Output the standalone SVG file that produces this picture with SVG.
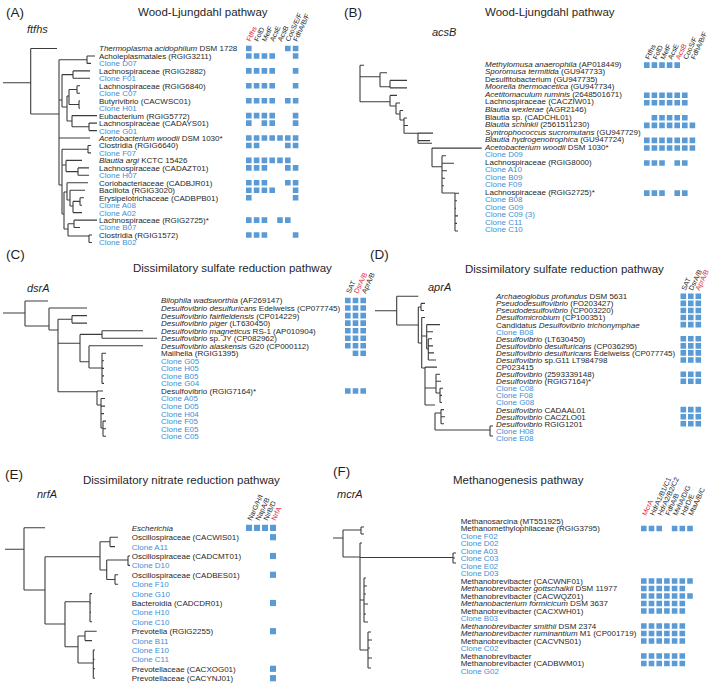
<svg xmlns="http://www.w3.org/2000/svg" width="709" height="685" viewBox="0 0 709 685">
<style>
text{font-family:"Liberation Sans",Arial,Helvetica,sans-serif;fill:#1f1f1f}
.t{font-size:8px}
.c{fill:#3e8fd5}
.i{font-style:italic}
.h{font-size:7px}
.r{fill:#e0243f}
.sq{fill:#5b9bd5}
.tr{fill:none;stroke:#3c3c3c;stroke-width:1.1}
.ti{font-size:11.5px}
.pl{font-size:13.5px}
.g{font-size:11px;font-style:italic}
</style>
<rect width="709" height="685" fill="#fff"/>
<g id="connectors">
<path class="tr" d="M3,82.7H30.7M30.7,48.5V114M30.7,48.5H57M30.7,114H59M59,59.7V185M59,59.7H87M87,56V63.4M87,56H95M87,63.4H91M59,100H62M62,74.6V107M62,74.6H73M73,70.9V78.3M73,70.9H90M73,78.3H90M62,107H67M67,96V121M67,96H69M69,89.5V104.5M69,89.5H77M77,85.8V93.3M77,85.8H80M77,93.3H80M69,104.5H79M79,100.7V108.2M79,100.7H80M79,108.2H80M67,121H72M72,115.6V126.8M72,115.6H97M72,126.8H89M89,123.1V130.6M89,123.1H97M89,130.6H97M59,138H90M59,185H62M62,149.2V214M62,149.2H88M88,145.5V152.9M88,145.5H91M88,152.9H91M62,165H66M66,160.4V171.6M66,160.4H82M66,171.6H78M78,167.9V175.3M78,167.9H89M78,175.3H89M62,214H64M64,192V229M64,192H67M67,182.8V200M67,182.8H88M67,200H70M70,190.2V206M70,190.2H85M70,206H73M73,201.4V212.6M73,201.4H80M80,197.7V205.2M80,197.7H84M80,205.2H82M73,212.6H82M64,229H68M68,223.8V236M68,223.8H74M74,220.1V227.5M74,220.1H97M74,227.5H80M68,236H89M89,235V242.5M89,235H92M89,242.5H92"/>
<path class="tr" d="M360,65.3V101.7M360,65.3H364M360,76.7H380M380,72.8V86.7M380,72.8H387M380,86.7H390M390,80.4V87.9M390,80.4H407M390,87.9H407M360,101.7H390M390,95.4V106M390,95.4H397M390,106H396M396,103V114M396,103H400M396,114H400M400,110.5V120M400,110.5H403M400,120H404M404,118V133.3M404,118H407M404,125.5H408M404,133.3H418M418,133.1V143.3M418,133.1H433M418,140.6H430M418,143.3H432M432,148.1V166.7M432,148.1H481.7M432,166.7H442M442,155.7V193M442,155.7H446M442,163.2H454M442,170.7H447M442,178.3H445M442,185.8H444M442,193H455M455,193.3V231M455,193.3H459M455,200.8H457M455,208.4H456M455,215.9H458M455,223.4H457M455,231H458"/>
<path class="tr" d="M3,313H25M25,301V326M25,301H48M25,326H49M49,308V330M49,308H87M49,330H58M58,319.3V391.7M58,319.3H72M72,315.6V323.1M72,315.6H87M72,323.1H87M58,343.3H80M80,334.4V361.7M80,334.4H102M102,330.7V338.2M102,330.7H143M102,338.2H157M80,361.7H89M89,345.7V368M89,345.7H143M89,368H102M102,353.3V383.4M102,353.3H106M102,360.8H104M102,368.4H104M102,375.9H104M102,383.4H104M58,391.7H97M97,391V405M97,391H103M97,405H101M101,398.5V428M101,398.5H105M101,406.1H105M101,413.6H104M101,428H103M103,421.1V436.2M103,421.1H106M103,428.7H106M103,436.2H106"/>
<path class="tr" d="M375,310.7H396.7M396.7,296.3V325M396.7,296.3H418.3M396.7,325H418.3M418.3,307V343M418.3,307H421M421,303.4V310.5M421,303.4H425M421,310.5H424M418.3,343H421.7M421.7,317.5V368M421.7,317.5H425M421.7,336H426.7M426.7,324.6V349M426.7,324.6H440M426.7,331.7H433M426.7,349H428.3M428.3,338.8V360M428.3,338.8H432M428.3,345.9H433M428.3,352.9H434M428.3,360H436M421.7,368H425M425,367.1V405M425,367.1H437M425,388H436M436,374.2V393M436,374.2H440M436,381.3H441M436,393H440M440,388.3V402.5M440,388.3H443M440,395.4H442M440,402.5H442M425,405H435M435,413V430M435,413H441M441,409.6V423.7M441,409.6H444M441,416.7H445M441,423.7H444M435,430H490M490,426V436M490,426H493M490,436H493"/>
<path class="tr" d="M5,549.3H24M24,527.8V590M24,527.8H45M24,590H45M45,556.7V624M45,556.7H100M100,541.7V570M100,541.7H110M110,537.2V546.6M110,537.2H118M110,546.6H115M100,570H106.7M106.7,560V579.5M106.7,560H128M128,556V565.4M128,556H130M128,565.4H130M106.7,579.5H115M115,574.8V584.2M115,574.8H118M115,584.2H118M45,624H65M65,601.7V646.7M65,601.7H90M90,593.6V621.8M90,593.6H92M90,603H91M90,612.4H91M90,621.8H92M65,646.7H78M78,636V663M78,636H85M85,631.2V640.6M85,631.2H96.7M85,640.6H92M78,663H93.3M93.3,650V678.2M93.3,650H95M93.3,659.4H94.5M93.3,668.8H95M93.3,678.2H95"/>
<path class="tr" d="M333,538H343M343,530V557M343,530H361M361,527V534M361,527H364M361,534H364M343,557H360M360,543V650M360,543H362M360,557.5H453M453,553V563M453,553H456M453,558H455M453,563H456M360,600H364M364,578V622M364,578H366M364,586H367M364,594H366M364,604H368M364,614H366M364,622H368M360,650H368M368,632V668M368,632H371M368,640H372M368,648H370M368,658H372M368,668H371"/>
</g>

<g id="panelA">
<text class="pl" x="6" y="17.2">(A)</text>
<text class="ti" x="138" y="15.5">Wood-Ljungdahl pathway</text>
<text class="g" x="27" y="33">ftfhs</text>
<g id="A-headers">
<text class="h r" transform="translate(250.5,42) rotate(-65)">Ftfhs</text>
<text class="h" transform="translate(258.3,42) rotate(-65)">FolD</text>
<text class="h" transform="translate(266.1,42) rotate(-65)">MetF</text>
<text class="h" transform="translate(273.9,42) rotate(-65)">AcsE</text>
<text class="h" transform="translate(281.7,42) rotate(-65)">AcsB</text>
<text class="h" transform="translate(289.5,42) rotate(-65)">CooS/E/F</text>
<text class="h" transform="translate(297.3,42) rotate(-65)">FdhA/B/F</text>
</g>
<g id="A-n0"><text class="t" x="99" y="51.4"><tspan class="i">Thermoplasma acidophilum</tspan> DSM 1728</text><path class="sq" d="M246,45.7h5.6v5.6h-5.6zm39,0h5.6v5.6h-5.6zm7.8,0h5.6v5.6h-5.6z"/></g>
<g id="A-n1"><text class="t" x="99" y="58.9">Acholeplasmatales (RGIG3211)</text><path class="sq" d="M246,53.2h5.6v5.6h-5.6zm7.8,0h5.6v5.6h-5.6zm7.8,0h5.6v5.6h-5.6zm7.8,0h5.6v5.6h-5.6zm23.4,0h5.6v5.6h-5.6z"/></g>
<g id="A-n2"><text class="t c" x="99" y="66.3">Clone D07</text></g>
<g id="A-n3"><text class="t" x="99" y="73.8">Lachnospiraceae (RGIG2882)</text><path class="sq" d="M246,68.1h5.6v5.6h-5.6zm7.8,0h5.6v5.6h-5.6zm7.8,0h5.6v5.6h-5.6zm7.8,0h5.6v5.6h-5.6zm23.4,0h5.6v5.6h-5.6z"/></g>
<g id="A-n4"><text class="t c" x="99" y="81.2">Clone F01</text></g>
<g id="A-n5"><text class="t" x="99" y="88.7">Lachnospiraceae (RGIG6840)</text><path class="sq" d="M246,83h5.6v5.6h-5.6zm7.8,0h5.6v5.6h-5.6zm7.8,0h5.6v5.6h-5.6zm7.8,0h5.6v5.6h-5.6zm23.4,0h5.6v5.6h-5.6z"/></g>
<g id="A-n6"><text class="t c" x="99" y="96.2">Clone C07</text></g>
<g id="A-n7"><text class="t" x="99" y="103.6">Butyrivibrio (CACWSC01)</text><path class="sq" d="M246,97.9h5.6v5.6h-5.6zm7.8,0h5.6v5.6h-5.6zm7.8,0h5.6v5.6h-5.6zm7.8,0h5.6v5.6h-5.6zm15.6,0h5.6v5.6h-5.6zm7.8,0h5.6v5.6h-5.6z"/></g>
<g id="A-n8"><text class="t c" x="99" y="111.1">Clone H01</text></g>
<g id="A-n9"><text class="t" x="99" y="118.5">Eubacterium (RGIG5772)</text><path class="sq" d="M246,112.8h5.6v5.6h-5.6zm7.8,0h5.6v5.6h-5.6zm7.8,0h5.6v5.6h-5.6zm7.8,0h5.6v5.6h-5.6zm23.4,0h5.6v5.6h-5.6z"/></g>
<g id="A-n10"><text class="t" x="99" y="126">Lachnospiraceae (CADAYS01)</text><path class="sq" d="M246,120.3h5.6v5.6h-5.6zm15.6,0h5.6v5.6h-5.6zm7.8,0h5.6v5.6h-5.6zm23.4,0h5.6v5.6h-5.6z"/></g>
<g id="A-n11"><text class="t c" x="99" y="133.5">Clone G01</text></g>
<g id="A-n12"><text class="t" x="99" y="140.9"><tspan class="i">Acetobacterium woodii</tspan> DSM 1030*</text><path class="sq" d="M246,135.2h5.6v5.6h-5.6zm7.8,0h5.6v5.6h-5.6zm7.8,0h5.6v5.6h-5.6zm7.8,0h5.6v5.6h-5.6zm7.8,0h5.6v5.6h-5.6zm7.8,0h5.6v5.6h-5.6zm7.8,0h5.6v5.6h-5.6z"/></g>
<g id="A-n13"><text class="t" x="99" y="148.4">Clostridia (RGIG6640)</text><path class="sq" d="M246,142.7h5.6v5.6h-5.6zm7.8,0h5.6v5.6h-5.6zm31.2,0h5.6v5.6h-5.6zm7.8,0h5.6v5.6h-5.6z"/></g>
<g id="A-n14"><text class="t c" x="99" y="155.8">Clone F07</text></g>
<g id="A-n15"><text class="t" x="99" y="163.3"><tspan class="i">Blautia argi</tspan> KCTC 15426</text><path class="sq" d="M246,157.6h5.6v5.6h-5.6zm7.8,0h5.6v5.6h-5.6zm7.8,0h5.6v5.6h-5.6zm7.8,0h5.6v5.6h-5.6zm7.8,0h5.6v5.6h-5.6zm7.8,0h5.6v5.6h-5.6z"/></g>
<g id="A-n16"><text class="t" x="99" y="170.8">Lachnospiraceae (CADAZT01)</text><path class="sq" d="M246,165.1h5.6v5.6h-5.6zm7.8,0h5.6v5.6h-5.6zm7.8,0h5.6v5.6h-5.6zm23.4,0h5.6v5.6h-5.6zm7.8,0h5.6v5.6h-5.6z"/></g>
<g id="A-n17"><text class="t c" x="99" y="178.2">Clone H07</text></g>
<g id="A-n18"><text class="t" x="99" y="185.7">Coriobacteriaceae (CADBJR01)</text><path class="sq" d="M246,180h5.6v5.6h-5.6zm7.8,0h5.6v5.6h-5.6zm7.8,0h5.6v5.6h-5.6zm23.4,0h5.6v5.6h-5.6zm7.8,0h5.6v5.6h-5.6z"/></g>
<g id="A-n19"><text class="t" x="99" y="193.1">Bacillota (RGIG3020)</text><path class="sq" d="M246,187.4h5.6v5.6h-5.6zm7.8,0h5.6v5.6h-5.6zm7.8,0h5.6v5.6h-5.6zm7.8,0h5.6v5.6h-5.6zm23.4,0h5.6v5.6h-5.6z"/></g>
<g id="A-n20"><text class="t" x="99" y="200.6">Erysipelotrichaceae (CADBPB01)</text><path class="sq" d="M246,194.9h5.6v5.6h-5.6zm46.8,0h5.6v5.6h-5.6z"/></g>
<g id="A-n21"><text class="t c" x="99" y="208.1">Clone A08</text></g>
<g id="A-n22"><text class="t c" x="99" y="215.5">Clone A02</text></g>
<g id="A-n23"><text class="t" x="99" y="223">Lachnospiraceae (RGIG2725)*</text><path class="sq" d="M246,217.3h5.6v5.6h-5.6zm7.8,0h5.6v5.6h-5.6zm7.8,0h5.6v5.6h-5.6zm15.6,0h5.6v5.6h-5.6zm7.8,0h5.6v5.6h-5.6z"/></g>
<g id="A-n24"><text class="t c" x="99" y="230.4">Clone B07</text></g>
<g id="A-n25"><text class="t" x="99" y="237.9">Clostridia (RGIG1572)</text><path class="sq" d="M246,232.2h5.6v5.6h-5.6zm7.8,0h5.6v5.6h-5.6zm7.8,0h5.6v5.6h-5.6zm31.2,0h5.6v5.6h-5.6z"/></g>
<g id="A-n26"><text class="t c" x="99" y="245.4">Clone B02</text></g>
</g>

<g id="panelB">
<text class="pl" x="344" y="17.2">(B)</text>
<text class="ti" x="485" y="15.5">Wood-Ljungdahl pathway</text>
<text class="g" x="432" y="36">acsB</text>
<g id="B-headers">
<text class="h" transform="translate(649.3,60) rotate(-65)">Ftfhs</text>
<text class="h" transform="translate(656.9,60) rotate(-65)">FolD</text>
<text class="h" transform="translate(664.5,60) rotate(-65)">MetF</text>
<text class="h" transform="translate(672.1,60) rotate(-65)">AcsE</text>
<text class="h r" transform="translate(679.7,60) rotate(-65)">AcsB</text>
<text class="h" transform="translate(687.3,60) rotate(-65)">CooS/F</text>
<text class="h" transform="translate(694.9,60) rotate(-65)">FdhA/B/F</text>
</g>
<g id="B-n0"><text class="t" x="485" y="66.8"><tspan class="i">Methylomusa anaerophila</tspan> (AP018449)</text><path class="sq" d="M644,62.3h5.6v5.6h-5.6zm7.6,0h5.6v5.6h-5.6zm7.6,0h5.6v5.6h-5.6zm7.6,0h5.6v5.6h-5.6zm7.6,0h5.6v5.6h-5.6z"/></g>
<g id="B-n1"><text class="t" x="485" y="74.33"><tspan class="i">Sporomusa termitida</tspan> (GU947733)</text></g>
<g id="B-n2"><text class="t" x="485" y="81.86">Desulfitobacterium (GU947735)</text></g>
<g id="B-n3"><text class="t" x="485" y="89.39"><tspan class="i">Moorella thermoacetica</tspan> (GU947734)</text></g>
<g id="B-n4"><text class="t" x="485" y="96.92"><tspan class="i">Acetitomaculum ruminis</tspan> (2648501671)</text><path class="sq" d="M644,92.42h5.6v5.6h-5.6zm7.6,0h5.6v5.6h-5.6zm7.6,0h5.6v5.6h-5.6zm7.6,0h5.6v5.6h-5.6zm7.6,0h5.6v5.6h-5.6zm7.6,0h5.6v5.6h-5.6z"/></g>
<g id="B-n5"><text class="t" x="485" y="104.45">Lachnospiraceae (CACZIW01)</text><path class="sq" d="M644,99.95h5.6v5.6h-5.6zm7.6,0h5.6v5.6h-5.6zm7.6,0h5.6v5.6h-5.6zm7.6,0h5.6v5.6h-5.6zm7.6,0h5.6v5.6h-5.6zm7.6,0h5.6v5.6h-5.6z"/></g>
<g id="B-n6"><text class="t" x="485" y="111.98"><tspan class="i">Blautia wexlerae</tspan> (AGR2146)</text></g>
<g id="B-n7"><text class="t" x="485" y="119.51">Blautia sp. (CADCHL01)</text><path class="sq" d="M651.6,115.01h5.6v5.6h-5.6zm7.6,0h5.6v5.6h-5.6zm7.6,0h5.6v5.6h-5.6zm7.6,0h5.6v5.6h-5.6zm7.6,0h5.6v5.6h-5.6z"/></g>
<g id="B-n8"><text class="t" x="485" y="127.04"><tspan class="i">Blautia schinkii</tspan> (2561511230)</text><path class="sq" d="M644,122.54h5.6v5.6h-5.6zm7.6,0h5.6v5.6h-5.6zm7.6,0h5.6v5.6h-5.6zm7.6,0h5.6v5.6h-5.6zm7.6,0h5.6v5.6h-5.6zm7.6,0h5.6v5.6h-5.6zm7.6,0h5.6v5.6h-5.6z"/></g>
<g id="B-n9"><text class="t" x="485" y="134.57"><tspan class="i">Syntrophococcus sucromutans</tspan> (GU947729)</text></g>
<g id="B-n10"><text class="t" x="485" y="142.1"><tspan class="i">Blautia hydrogenotrophica</tspan> (GU947724)</text><path class="sq" d="M644,137.6h5.6v5.6h-5.6zm7.6,0h5.6v5.6h-5.6zm7.6,0h5.6v5.6h-5.6zm7.6,0h5.6v5.6h-5.6zm7.6,0h5.6v5.6h-5.6zm7.6,0h5.6v5.6h-5.6zm7.6,0h5.6v5.6h-5.6z"/></g>
<g id="B-n11"><text class="t" x="485" y="149.63"><tspan class="i">Acetobacterium woodii</tspan> DSM 1030*</text><path class="sq" d="M644,145.13h5.6v5.6h-5.6zm7.6,0h5.6v5.6h-5.6zm7.6,0h5.6v5.6h-5.6zm7.6,0h5.6v5.6h-5.6zm7.6,0h5.6v5.6h-5.6zm7.6,0h5.6v5.6h-5.6zm7.6,0h5.6v5.6h-5.6z"/></g>
<g id="B-n12"><text class="t c" x="485" y="157.16">Clone D09</text></g>
<g id="B-n13"><text class="t" x="485" y="164.69">Lachnospiraceae (RGIG8000)</text><path class="sq" d="M644,160.19h5.6v5.6h-5.6zm7.6,0h5.6v5.6h-5.6zm7.6,0h5.6v5.6h-5.6zm15.2,0h5.6v5.6h-5.6zm7.6,0h5.6v5.6h-5.6z"/></g>
<g id="B-n14"><text class="t c" x="485" y="172.22">Clone A10</text></g>
<g id="B-n15"><text class="t c" x="485" y="179.75">Clone B09</text></g>
<g id="B-n16"><text class="t c" x="485" y="187.28">Clone F09</text></g>
<g id="B-n17"><text class="t" x="485" y="194.81">Lachnospiraceae (RGIG2725)*</text><path class="sq" d="M644,190.31h5.6v5.6h-5.6zm7.6,0h5.6v5.6h-5.6zm7.6,0h5.6v5.6h-5.6zm15.2,0h5.6v5.6h-5.6zm7.6,0h5.6v5.6h-5.6z"/></g>
<g id="B-n18"><text class="t c" x="485" y="202.34">Clone B08</text></g>
<g id="B-n19"><text class="t c" x="485" y="209.87">Clone G09</text></g>
<g id="B-n20"><text class="t c" x="485" y="217.4">Clone C09 (3)</text></g>
<g id="B-n21"><text class="t c" x="485" y="224.93">Clone C11</text></g>
<g id="B-n22"><text class="t c" x="485" y="232.46">Clone C10</text></g>
</g>

<g id="panelC">
<text class="pl" x="6" y="259">(C)</text>
<text class="ti" x="133" y="271.5">Dissimilatory sulfate reduction pathway</text>
<text class="g" x="27" y="291.5">dsrA</text>
<g id="C-headers">
<text class="h" transform="translate(350.3,294) rotate(-65)">SAT</text>
<text class="h r" transform="translate(358,294) rotate(-65)">DsrA/B</text>
<text class="h" transform="translate(365.7,294) rotate(-65)">AprA/B</text>
</g>
<g id="C-n0"><text class="t" x="161" y="303.4"><tspan class="i">Bilophila wadsworthia</tspan> (AF269147)</text><path class="sq" d="M345,297.7h5.6v5.6h-5.6zm7.7,0h5.6v5.6h-5.6zm7.7,0h5.6v5.6h-5.6z"/></g>
<g id="C-n1"><text class="t" x="161" y="310.9"><tspan class="i">Desulfovibrio desulfuricans</tspan> Edelweiss (CP077745)</text><path class="sq" d="M345,305.2h5.6v5.6h-5.6zm7.7,0h5.6v5.6h-5.6zm7.7,0h5.6v5.6h-5.6z"/></g>
<g id="C-n2"><text class="t" x="161" y="318.5"><tspan class="i">Desulfovibrio fairfieldensis</tspan> (CP014229)</text><path class="sq" d="M345,312.8h5.6v5.6h-5.6zm7.7,0h5.6v5.6h-5.6zm7.7,0h5.6v5.6h-5.6z"/></g>
<g id="C-n3"><text class="t" x="161" y="326"><tspan class="i">Desulfovibrio piger</tspan> (LT630450)</text><path class="sq" d="M345,320.3h5.6v5.6h-5.6zm7.7,0h5.6v5.6h-5.6zm7.7,0h5.6v5.6h-5.6z"/></g>
<g id="C-n4"><text class="t" x="161" y="333.6"><tspan class="i">Desulfovibrio magneticus</tspan> RS-1 (AP010904)</text><path class="sq" d="M345,327.9h5.6v5.6h-5.6zm7.7,0h5.6v5.6h-5.6zm7.7,0h5.6v5.6h-5.6z"/></g>
<g id="C-n5"><text class="t" x="161" y="341.1"><tspan class="i">Desulfovibrio</tspan> sp. JY (CP082962)</text><path class="sq" d="M345,335.4h5.6v5.6h-5.6zm7.7,0h5.6v5.6h-5.6zm7.7,0h5.6v5.6h-5.6z"/></g>
<g id="C-n6"><text class="t" x="161" y="348.6"><tspan class="i">Desulfovibrio alaskensis</tspan> G20 (CP000112)</text><path class="sq" d="M345,342.9h5.6v5.6h-5.6zm7.7,0h5.6v5.6h-5.6zm7.7,0h5.6v5.6h-5.6z"/></g>
<g id="C-n7"><text class="t" x="161" y="356.2">Mailhella (RGIG1395)</text><path class="sq" d="M352.7,350.5h5.6v5.6h-5.6zm7.7,0h5.6v5.6h-5.6z"/></g>
<g id="C-n8"><text class="t c" x="161" y="363.7">Clone G05</text></g>
<g id="C-n9"><text class="t c" x="161" y="371.3">Clone H05</text></g>
<g id="C-n10"><text class="t c" x="161" y="378.8">Clone B05</text></g>
<g id="C-n11"><text class="t c" x="161" y="386.3">Clone G04</text></g>
<g id="C-n12"><text class="t" x="161" y="393.9">Desulfovibrio (RGIG7164)*</text><path class="sq" d="M345,388.2h5.6v5.6h-5.6zm7.7,0h5.6v5.6h-5.6zm7.7,0h5.6v5.6h-5.6z"/></g>
<g id="C-n13"><text class="t c" x="161" y="401.4">Clone A05</text></g>
<g id="C-n14"><text class="t c" x="161" y="409">Clone D05</text></g>
<g id="C-n15"><text class="t c" x="161" y="416.5">Clone H04</text></g>
<g id="C-n16"><text class="t c" x="161" y="424">Clone F05</text></g>
<g id="C-n17"><text class="t c" x="161" y="431.6">Clone E05</text></g>
<g id="C-n18"><text class="t c" x="161" y="439.1">Clone C05</text></g>
</g>

<g id="panelD">
<text class="pl" x="370" y="259">(D)</text>
<text class="ti" x="465" y="273">Dissimilatory sulfate reduction pathway</text>
<text class="g" x="428" y="291">aprA</text>
<g id="D-headers">
<text class="h" transform="translate(685.5,291) rotate(-65)">SAT</text>
<text class="h" transform="translate(692.8,291) rotate(-65)">DsrA/B</text>
<text class="h r" transform="translate(699.6,291) rotate(-65)">AprA/B</text>
</g>
<g id="D-n0"><text class="t" x="496" y="299.2"><tspan class="i">Archaeoglobus profundus</tspan> DSM 5631</text><path class="sq" d="M680.5,293.5h5.6v5.6h-5.6zm7.5,0h5.6v5.6h-5.6zm7.5,0h5.6v5.6h-5.6z"/></g>
<g id="D-n1"><text class="t" x="496" y="306.3"><tspan class="i">Pseudodesulfovibrio</tspan> (FO203427)</text><path class="sq" d="M680.5,300.6h5.6v5.6h-5.6zm7.5,0h5.6v5.6h-5.6zm7.5,0h5.6v5.6h-5.6z"/></g>
<g id="D-n2"><text class="t" x="496" y="313.4"><tspan class="i">Pseudodesulfovibrio</tspan> (CP003220)</text><path class="sq" d="M680.5,307.7h5.6v5.6h-5.6zm7.5,0h5.6v5.6h-5.6zm7.5,0h5.6v5.6h-5.6z"/></g>
<g id="D-n3"><text class="t" x="496" y="320.4"><tspan class="i">Desulfomicrobium</tspan> (CP100351)</text><path class="sq" d="M680.5,314.7h5.6v5.6h-5.6zm7.5,0h5.6v5.6h-5.6zm7.5,0h5.6v5.6h-5.6z"/></g>
<g id="D-n4"><text class="t" x="496" y="327.5">Candidatus <tspan class="i">Desulfovibrio trichonymphae</tspan></text><path class="sq" d="M680.5,321.8h5.6v5.6h-5.6zm7.5,0h5.6v5.6h-5.6zm7.5,0h5.6v5.6h-5.6z"/></g>
<g id="D-n5"><text class="t c" x="496" y="334.6">Clone B08</text></g>
<g id="D-n6"><text class="t" x="496" y="341.7"><tspan class="i">Desulfovibrio</tspan> (LT630450)</text><path class="sq" d="M680.5,336h5.6v5.6h-5.6zm7.5,0h5.6v5.6h-5.6zm7.5,0h5.6v5.6h-5.6z"/></g>
<g id="D-n7"><text class="t" x="496" y="348.8"><tspan class="i">Desulfovibrio desulfuricans</tspan> (CP036295)</text><path class="sq" d="M680.5,343.1h5.6v5.6h-5.6zm7.5,0h5.6v5.6h-5.6zm7.5,0h5.6v5.6h-5.6z"/></g>
<g id="D-n8"><text class="t" x="496" y="355.8"><tspan class="i">Desulfovibrio desulfuricans</tspan> Edelweiss (CP077745)</text><path class="sq" d="M680.5,350.1h5.6v5.6h-5.6zm7.5,0h5.6v5.6h-5.6zm7.5,0h5.6v5.6h-5.6z"/></g>
<g id="D-n9"><text class="t" x="496" y="362.9"><tspan class="i">Desulfovibrio</tspan> sp.G11 LT984798</text><path class="sq" d="M680.5,357.2h5.6v5.6h-5.6zm7.5,0h5.6v5.6h-5.6zm7.5,0h5.6v5.6h-5.6z"/></g>
<g id="D-n10"><text class="t" x="496" y="370">CP023415</text></g>
<g id="D-n11"><text class="t" x="496" y="377.1"><tspan class="i">Desulfovibrio</tspan> (2593339148)</text><path class="sq" d="M680.5,371.4h5.6v5.6h-5.6zm7.5,0h5.6v5.6h-5.6zm7.5,0h5.6v5.6h-5.6z"/></g>
<g id="D-n12"><text class="t" x="496" y="384.2"><tspan class="i">Desulfovibrio</tspan> (RGIG7164)*</text><path class="sq" d="M680.5,378.5h5.6v5.6h-5.6zm7.5,0h5.6v5.6h-5.6zm7.5,0h5.6v5.6h-5.6z"/></g>
<g id="D-n13"><text class="t c" x="496" y="391.2">Clone C08</text></g>
<g id="D-n14"><text class="t c" x="496" y="398.3">Clone F08</text></g>
<g id="D-n15"><text class="t c" x="496" y="405.4">Clone G08</text></g>
<g id="D-n16"><text class="t" x="496" y="412.5"><tspan class="i">Desulfovibrio</tspan> CADAAL01</text><path class="sq" d="M680.5,406.8h5.6v5.6h-5.6zm7.5,0h5.6v5.6h-5.6zm7.5,0h5.6v5.6h-5.6z"/></g>
<g id="D-n17"><text class="t" x="496" y="419.6"><tspan class="i">Desulfovibrio</tspan> CACZLO01</text><path class="sq" d="M680.5,413.9h5.6v5.6h-5.6zm7.5,0h5.6v5.6h-5.6zm7.5,0h5.6v5.6h-5.6z"/></g>
<g id="D-n18"><text class="t" x="496" y="426.6"><tspan class="i">Desulfovibrio</tspan> RGIG1201</text><path class="sq" d="M680.5,420.9h5.6v5.6h-5.6zm7.5,0h5.6v5.6h-5.6zm7.5,0h5.6v5.6h-5.6z"/></g>
<g id="D-n19"><text class="t c" x="496" y="433.7">Clone H08</text></g>
<g id="D-n20"><text class="t c" x="496" y="440.8">Clone E08</text></g>
</g>

<g id="panelE">
<text class="pl" x="5" y="478.9">(E)</text>
<text class="ti" x="83" y="483.8">Dissimilatory nitrate reduction pathway</text>
<text class="g" x="37" y="498">nrfA</text>
<g id="E-headers">
<text class="h" transform="translate(251.5,521) rotate(-65)">NarG/H/I</text>
<text class="h" transform="translate(259.5,521) rotate(-65)">NapA/B</text>
<text class="h" transform="translate(267.5,521) rotate(-65)">NirB/D</text>
<text class="h r" transform="translate(275.5,521) rotate(-65)">NrfA</text>
</g>
<g id="E-n0"><text class="t" x="131.7" y="530.8"><tspan class="i">Escherichia</tspan></text><path class="sq" d="M246,524.7h6v6.2h-6zm8,0h6v6.2h-6zm8,0h6v6.2h-6zm8,0h6v6.2h-6z"/></g>
<g id="E-n1"><text class="t" x="131.7" y="540.2">Oscillospiraceae (CACWIS01)</text><path class="sq" d="M270,534.1h6v6.2h-6z"/></g>
<g id="E-n2"><text class="t c" x="131.7" y="549.6">Clone A11</text></g>
<g id="E-n3"><text class="t" x="131.7" y="559">Oscillospiraceae (CADCMT01)</text><path class="sq" d="M270,552.9h6v6.2h-6z"/></g>
<g id="E-n4"><text class="t c" x="131.7" y="568.4">Clone D10</text></g>
<g id="E-n5"><text class="t" x="131.7" y="577.8">Oscillospiraceae (CADBES01)</text><path class="sq" d="M270,571.7h6v6.2h-6z"/></g>
<g id="E-n6"><text class="t c" x="131.7" y="587.2">Clone F10</text></g>
<g id="E-n7"><text class="t c" x="131.7" y="596.6">Clone G10</text></g>
<g id="E-n8"><text class="t" x="131.7" y="606">Bacteroidia (CADCDR01)</text><path class="sq" d="M270,599.9h6v6.2h-6z"/></g>
<g id="E-n9"><text class="t c" x="131.7" y="615.4">Clone H10</text></g>
<g id="E-n10"><text class="t c" x="131.7" y="624.8">Clone C10</text></g>
<g id="E-n11"><text class="t" x="131.7" y="634.2">Prevotella (RGIG2255)</text><path class="sq" d="M270,628.1h6v6.2h-6z"/></g>
<g id="E-n12"><text class="t c" x="131.7" y="643.6">Clone B11</text></g>
<g id="E-n13"><text class="t c" x="131.7" y="653">Clone E10</text></g>
<g id="E-n14"><text class="t c" x="131.7" y="662.4">Clone C11</text></g>
<g id="E-n15"><text class="t" x="131.7" y="671.8">Prevotellaceae (CACXOG01)</text><path class="sq" d="M270,665.7h6v6.2h-6z"/></g>
<g id="E-n16"><text class="t" x="131.7" y="681.2">Prevotellaceae (CACYNJ01)</text><path class="sq" d="M270,675.1h6v6.2h-6z"/></g>
</g>

<g id="panelF">
<text class="pl" x="333" y="475.5">(F)</text>
<text class="ti" x="453" y="483.5">Methanogenesis pathway</text>
<text class="g" x="337" y="498">mcrA</text>
<g id="F-headers">
<text class="h r" transform="translate(646.3,516) rotate(-65)">McrA</text>
<text class="h" transform="translate(654,516) rotate(-65)">HdrA1/B1/C1</text>
<text class="h" transform="translate(661.7,516) rotate(-65)">HdrA2/B2/C2</text>
<text class="h" transform="translate(669.4,516) rotate(-65)">FdhA/B</text>
<text class="h" transform="translate(677.1,516) rotate(-65)">MvhA/D/G</text>
<text class="h" transform="translate(684.8,516) rotate(-65)">HdrD/E</text>
<text class="h" transform="translate(692.5,516) rotate(-65)">MtaA/B/C</text>
</g>
<g id="F-n0"><text class="t" x="460.7" y="523.9">Methanosarcina (MT551925)</text></g>
<g id="F-n1"><text class="t" x="460.7" y="531.4">Methanomethylophilaceae (RGIG3795)</text><path class="sq" d="M641,525.7h5.6v5.6h-5.6zm7.7,0h5.6v5.6h-5.6zm7.7,0h5.6v5.6h-5.6zm15.4,0h5.6v5.6h-5.6zm7.7,0h5.6v5.6h-5.6zm7.7,0h5.6v5.6h-5.6z"/></g>
<g id="F-n2"><text class="t c" x="460.7" y="538.9">Clone F02</text></g>
<g id="F-n3"><text class="t c" x="460.7" y="546.4">Clone D02</text></g>
<g id="F-n4"><text class="t c" x="460.7" y="553.9">Clone A03</text></g>
<g id="F-n5"><text class="t c" x="460.7" y="561.4">Clone C03</text></g>
<g id="F-n6"><text class="t c" x="460.7" y="568.9">Clone E02</text></g>
<g id="F-n7"><text class="t c" x="460.7" y="576.4">Clone D03</text></g>
<g id="F-n8"><text class="t" x="460.7" y="583.9">Methanobrevibacter (CACWNF01)</text><path class="sq" d="M641,578.2h5.6v5.6h-5.6zm7.7,0h5.6v5.6h-5.6zm7.7,0h5.6v5.6h-5.6zm7.7,0h5.6v5.6h-5.6zm7.7,0h5.6v5.6h-5.6zm7.7,0h5.6v5.6h-5.6zm7.7,0h5.6v5.6h-5.6z"/></g>
<g id="F-n9"><text class="t" x="460.7" y="591.4"><tspan class="i">Methanobrevibacter gottschalkii</tspan> DSM 11977</text><path class="sq" d="M641,585.7h5.6v5.6h-5.6zm7.7,0h5.6v5.6h-5.6zm7.7,0h5.6v5.6h-5.6zm7.7,0h5.6v5.6h-5.6zm7.7,0h5.6v5.6h-5.6zm7.7,0h5.6v5.6h-5.6z"/></g>
<g id="F-n10"><text class="t" x="460.7" y="598.9">Methanobrevibacter (CACWQZ01)</text><path class="sq" d="M641,593.2h5.6v5.6h-5.6zm7.7,0h5.6v5.6h-5.6zm7.7,0h5.6v5.6h-5.6zm7.7,0h5.6v5.6h-5.6zm7.7,0h5.6v5.6h-5.6zm7.7,0h5.6v5.6h-5.6zm7.7,0h5.6v5.6h-5.6z"/></g>
<g id="F-n11"><text class="t" x="460.7" y="606.4"><tspan class="i">Methanobacterium formicicum</tspan> DSM 3637</text><path class="sq" d="M641,600.7h5.6v5.6h-5.6zm7.7,0h5.6v5.6h-5.6zm7.7,0h5.6v5.6h-5.6zm7.7,0h5.6v5.6h-5.6zm7.7,0h5.6v5.6h-5.6zm7.7,0h5.6v5.6h-5.6z"/></g>
<g id="F-n12"><text class="t" x="460.7" y="613.9">Methanobrevibacter (CACXWH01)</text><path class="sq" d="M641,608.2h5.6v5.6h-5.6zm7.7,0h5.6v5.6h-5.6zm7.7,0h5.6v5.6h-5.6zm7.7,0h5.6v5.6h-5.6zm7.7,0h5.6v5.6h-5.6zm7.7,0h5.6v5.6h-5.6z"/></g>
<g id="F-n13"><text class="t c" x="460.7" y="621.4">Clone B03</text></g>
<g id="F-n14"><text class="t" x="460.7" y="628.9"><tspan class="i">Methanobrevibacter smithii</tspan> DSM 2374</text><path class="sq" d="M641,623.2h5.6v5.6h-5.6zm7.7,0h5.6v5.6h-5.6zm7.7,0h5.6v5.6h-5.6zm7.7,0h5.6v5.6h-5.6zm7.7,0h5.6v5.6h-5.6zm7.7,0h5.6v5.6h-5.6z"/></g>
<g id="F-n15"><text class="t" x="460.7" y="636.4"><tspan class="i">Methanobrevibacter ruminantium</tspan> M1 (CP001719)</text><path class="sq" d="M641,630.7h5.6v5.6h-5.6zm7.7,0h5.6v5.6h-5.6zm7.7,0h5.6v5.6h-5.6zm7.7,0h5.6v5.6h-5.6zm7.7,0h5.6v5.6h-5.6zm7.7,0h5.6v5.6h-5.6z"/></g>
<g id="F-n16"><text class="t" x="460.7" y="643.9">Methanobrevibacter (CACVNS01)</text><path class="sq" d="M641,638.2h5.6v5.6h-5.6zm7.7,0h5.6v5.6h-5.6zm7.7,0h5.6v5.6h-5.6zm7.7,0h5.6v5.6h-5.6zm7.7,0h5.6v5.6h-5.6zm7.7,0h5.6v5.6h-5.6z"/></g>
<g id="F-n17"><text class="t c" x="460.7" y="651.4">Clone C02</text></g>
<g id="F-n18"><text class="t" x="460.7" y="658.9">Methanobrevibacter</text><path class="sq" d="M641,653.2h5.6v5.6h-5.6zm7.7,0h5.6v5.6h-5.6zm7.7,0h5.6v5.6h-5.6zm7.7,0h5.6v5.6h-5.6zm7.7,0h5.6v5.6h-5.6zm7.7,0h5.6v5.6h-5.6z"/></g>
<g id="F-n19"><text class="t" x="460.7" y="666.4">Methanobrevibacter (CADBWM01)</text><path class="sq" d="M641,660.7h5.6v5.6h-5.6zm7.7,0h5.6v5.6h-5.6zm7.7,0h5.6v5.6h-5.6zm7.7,0h5.6v5.6h-5.6zm7.7,0h5.6v5.6h-5.6zm7.7,0h5.6v5.6h-5.6z"/></g>
<g id="F-n20"><text class="t c" x="460.7" y="673.9">Clone G02</text></g>
</g>
</svg>
